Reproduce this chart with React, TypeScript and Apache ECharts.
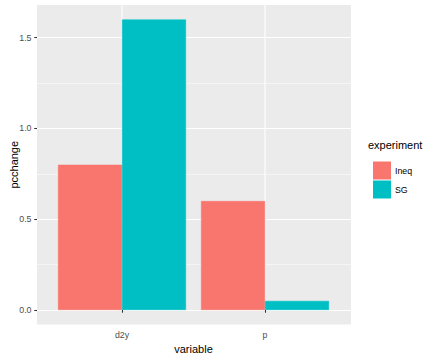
import React, { useEffect, useRef } from "react";
import * as echarts from "echarts";

const categories = ["d2y", "p"];
const ineqValues = [0.8, 0.6];
const sgValues = [1.6, 0.05];
const yTickValues = [0, 0.5, 1.0, 1.5];
const seriesNames = ["Ineq", "SG"];
const legendTitle = "experiment";
const xTitle = "variable";
const yTitle = "pcchange";

const FONT = "'Liberation Sans', Arial, sans-serif";

export default function App() {
  const ref = useRef<HTMLDivElement>(null);
  useEffect(() => {
    if (!ref.current) return;
    const chart = echarts.init(ref.current, null, { renderer: "svg" });
    const W = 432;
    const panelL = 37, panelR = 351, panelT = 5, panelB = 324.5;
    const catL = 50.5;
    const catR = 336.5;
    const yMin = -0.08, yMax = 1.68;
    const pxPerVal = (panelB - panelT) / (yMax - yMin);
    const y0 = panelB - (0 - yMin) * pxPerVal;
    const yTop = panelB - (yTickValues[yTickValues.length - 1] - yMin) * pxPerVal;
    const barW = 64;
    chart.setOption({
      animation: false,
      textStyle: { fontFamily: FONT },
      grid: [
        { left: panelL, right: W - panelR, top: panelT, bottom: 360 - panelB, show: true, backgroundColor: "#EBEBEB", borderWidth: 0 },
        { left: panelL, right: W - panelR, top: yTop, bottom: 360 - y0, show: false },
        { left: catL, right: W - catR, top: panelT, bottom: 360 - panelB, show: false },
      ],
      xAxis: [
        { gridIndex: 0, type: "value", show: false },
        { gridIndex: 1, type: "value", show: false },
        {
          gridIndex: 2,
          type: "category",
          data: categories,
          boundaryGap: true,
          name: xTitle,
          nameLocation: "middle",
          nameGap: 19,
          nameTextStyle: { color: "#000", fontSize: 11, fontFamily: FONT },
          axisLine: { show: false },
          axisTick: { show: true, alignWithLabel: true, length: 2.75, lineStyle: { color: "#333333", width: 1.07 } },
          axisLabel: { color: "#4D4D4D", fontSize: 8.8, margin: 5.5, fontFamily: FONT },
          splitLine: { show: false },
        },
      ],
      yAxis: [
        {
          gridIndex: 0,
          type: "value",
          min: yMin,
          max: yMax,
          name: yTitle,
          nameLocation: "middle",
          nameGap: 18,
          nameTextStyle: { color: "#000", fontSize: 11, fontFamily: FONT },
          axisLine: { show: false },
          axisTick: { show: false },
          axisLabel: { show: false },
          splitLine: { show: false },
        },
        {
          gridIndex: 1,
          type: "value",
          min: yTickValues[0],
          max: yTickValues[yTickValues.length - 1],
          interval: 0.5,
          axisLine: { show: false },
          axisTick: { show: true, length: 2.75, lineStyle: { color: "#333333", width: 1.07 } },
          axisLabel: { color: "#4D4D4D", fontSize: 8.8, margin: 5.5, fontFamily: FONT, formatter: (v: number) => v.toFixed(1) },
          splitLine: { show: true, lineStyle: { color: "#FFFFFF", width: 1.07 } },
          minorTick: { show: false, splitNumber: 2 },
          minorSplitLine: { show: true, lineStyle: { color: "#FFFFFF", width: 0.53 } },
        },
        {
          gridIndex: 2,
          type: "value",
          min: yMin,
          max: yMax,
          show: false,
        },
      ],
      legend: {
        orient: "vertical",
        left: 368,
        top: 156.5,
        itemWidth: 16,
        itemHeight: 16,
        itemGap: 1,
        icon: "rect",
        data: seriesNames,
        textStyle: { color: "#000", fontSize: 8.8, fontFamily: FONT },
      },
      graphic: [
        {
          type: "text",
          left: 368,
          top: 139.5,
          style: { text: legendTitle, fill: "#000", fontSize: 11, fontFamily: FONT },
        },
      ],
      series: [
        {
          type: "custom",
          xAxisIndex: 2,
          yAxisIndex: 2,
          data: categories.map((c, i) => [c, Math.min(ineqValues[i], sgValues[i])]),
          encode: { x: 0, y: 1 },
          silent: true,
          z: 1,
          renderItem: (params: any, api: any) => {
            const pt = api.coord([api.value(0), api.value(1)]);
            const cs = params.coordSys;
            return {
              type: "line",
              shape: { x1: pt[0], y1: cs.y, x2: pt[0], y2: pt[1] },
              style: { stroke: "#FFFFFF", lineWidth: 1.07 },
            };
          },
        },
        {
          name: seriesNames[0],
          type: "bar",
          xAxisIndex: 2,
          yAxisIndex: 2,
          data: ineqValues,
          barWidth: barW,
          barGap: "0%",
          itemStyle: { color: "#F8766D", borderColor: "#F8766D", borderWidth: 0.6 },
          z: 10,
        },
        {
          name: seriesNames[1],
          type: "bar",
          xAxisIndex: 2,
          yAxisIndex: 2,
          data: sgValues,
          barWidth: barW,
          barGap: "0%",
          itemStyle: { color: "#00BFC4", borderColor: "#00BFC4", borderWidth: 0.6 },
          z: 11,
        },
      ],
    });
    return () => chart.dispose();
  }, []);
  return <div ref={ref} style={{ position: "fixed", left: 0, top: 0, width: 432, height: 360, background: "#fff" }} />;
}
